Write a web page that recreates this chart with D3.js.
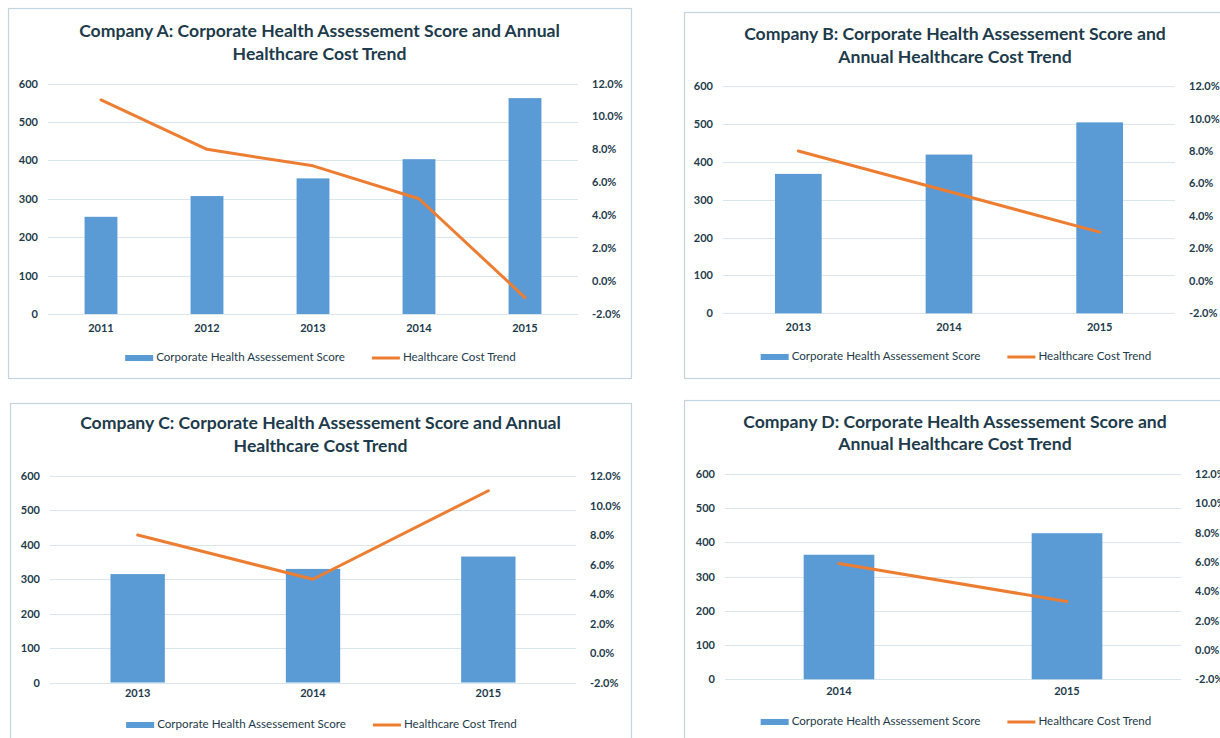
<!DOCTYPE html>
<html><head><meta charset="utf-8">
<script src="https://cdn.jsdelivr.net/npm/d3@7"></script>
<style>body{margin:0;background:#fff;} svg{display:block;font-family:Lato,"Open Sans",sans-serif;}</style>
</head><body><svg id="c" width="1220" height="738"></svg>
<script>
// ---- data ----
const yearsA = ["2011","2012","2013","2014","2015"];
const scoreA = [253, 307, 353, 403, 562];
const costA  = [11.0, 8.0, 7.0, 5.0, -1.0];
const yearsB = ["2013","2014","2015"];
const scoreB = [368, 419, 504];
const costB  = [8.0, 5.5, 3.0];
const yearsC = ["2013","2014","2015"];
const scoreC = [315, 330, 366];
const costC  = [8.0, 5.0, 11.0];
const yearsD = ["2014","2015"];
const scoreD = [364, 427];
const costD  = [5.9, 3.3];
const leftTicks = [0,100,200,300,400,500,600];
const rightTicks = [-2,0,2,4,6,8,10,12];
const titlesA = ["Company A: Corporate Health Assessement Score and Annual","Healthcare Cost Trend"];
const titlesB = ["Company B: Corporate Health Assessement Score and","Annual Healthcare Cost Trend"];
const titlesC = ["Company C: Corporate Health Assessement Score and Annual","Healthcare Cost Trend"];
const titlesD = ["Company D: Corporate Health Assessement Score and","Annual Healthcare Cost Trend"];
const legendLabels = ["Corporate Health Assessement Score","Healthcare Cost Trend"];

// ---- layout ----
const panels = [
  {years:yearsA, score:scoreA, cost:costA, titles:titlesA, box:[8,8,631,378], plot:[48,578,83.5,314], titleY:[32,55], xLabY:330, legY:358},
  {years:yearsB, score:scoreB, cost:costB, titles:titlesB, box:[684,12,1226,378], plot:[723,1175,86,313.3], titleY:[35,58], xLabY:329, legY:357},
  {years:yearsC, score:scoreC, cost:costC, titles:titlesC, box:[10,403,631,760], plot:[50,576,476,682.5], titleY:[424,447], xLabY:695, legY:725},
  {years:yearsD, score:scoreD, cost:costD, titles:titlesD, box:[684,400,1226,760], plot:[725,1181,474,679.3], titleY:[423,445], xLabY:693, legY:722}
];
const txt = "#1d3b4b", grid = "#d9e6ee", border = "#c3d4dc", barC = "#5b9bd5", lineC = "#ed7d31";
const svg = d3.select("#c");

panels.forEach(p => {
  const g = svg.append("g");
  const [bx0,by0,bx1,by1] = p.box;
  g.append("rect").attr("x",bx0+0.5).attr("y",by0+0.5).attr("width",bx1-bx0).attr("height",by1-by0)
    .attr("fill","#fff").attr("stroke",border).attr("stroke-width",1.2);
  const cx = (bx0+bx1)/2;
  p.titles.forEach((t,i)=>{
    g.append("text").attr("x",cx).attr("y",p.titleY[i]).attr("text-anchor","middle").attr("dominant-baseline","middle")
      .attr("font-size",17.6).attr("font-weight",700).attr("fill",txt).text(t);
  });
  const [x0,x1,yTop,yBot] = p.plot;
  const x = d3.scaleBand().domain(p.years).range([x0,x1]).paddingInner(0.69).paddingOuter(0.345);
  const y = d3.scaleLinear().domain([0,600]).range([yBot,yTop]);
  const y2 = d3.scaleLinear().domain([-2,12]).range([yBot,yTop]);

  // gridlines
  g.append("g").selectAll("line").data(leftTicks).join("line")
    .attr("x1",x0).attr("x2",x1).attr("y1",d=>Math.round(y(d))+0.5).attr("y2",d=>Math.round(y(d))+0.5)
    .attr("stroke",grid).attr("stroke-width",1);

  // left axis
  const la = g.append("g").attr("transform",`translate(${x0-10},0)`)
    .call(d3.axisLeft(y).tickValues(leftTicks).tickSize(0).tickPadding(0));
  la.select(".domain").remove();
  la.selectAll("text").attr("font-size",11).attr("font-family","Lato").attr("font-weight",700).attr("fill",txt);

  // right axis
  const ra = g.append("g").attr("transform",`translate(${x1+14},0)`)
    .call(d3.axisRight(y2).tickValues(rightTicks).tickSize(0).tickPadding(0).tickFormat(d=>d.toFixed(1)+"%"));
  ra.select(".domain").remove();
  ra.selectAll("text").attr("font-size",11).attr("font-family","Lato").attr("font-weight",700).attr("fill",txt);

  // x axis labels
  const xa = g.append("g").attr("transform",`translate(0,${p.xLabY-6})`)
    .call(d3.axisBottom(x).tickSize(0).tickPadding(0));
  xa.select(".domain").remove();
  xa.selectAll("text").attr("font-size",11).attr("font-family","Lato").attr("font-weight",700).attr("fill",txt);

  // bars
  g.append("g").selectAll("rect").data(p.years).join("rect")
    .attr("x",d=>x(d)).attr("width",x.bandwidth())
    .attr("y",(d,i)=>y(p.score[i])).attr("height",(d,i)=>y(0)-y(p.score[i]))
    .attr("fill",barC);

  // line
  const line = d3.line().x((d,i)=>x(p.years[i])+x.bandwidth()/2).y(d=>y2(d));
  g.append("path").datum(p.cost).attr("d",line).attr("fill","none").attr("stroke",lineC)
    .attr("stroke-width",3).attr("stroke-linejoin","round").attr("stroke-linecap","round");

  // legend
  const lg = g.append("g");
  const t1 = lg.append("text").attr("font-size",11.6).attr("fill",txt).attr("dominant-baseline","middle").text(legendLabels[0]);
  const t2 = lg.append("text").attr("font-size",11.6).attr("fill",txt).attr("dominant-baseline","middle").text(legendLabels[1]);
  const w1 = t1.node().getComputedTextLength(), w2 = t2.node().getComputedTextLength();
  const sw = 28, gap = 3, between = 27;
  const total = sw+gap+w1+between+sw+gap+w2;
  let lx = cx - total/2 + 1;
  lg.append("rect").attr("x",lx).attr("y",p.legY-3).attr("width",sw).attr("height",6).attr("fill",barC);
  t1.attr("x",lx+sw+gap).attr("y",p.legY);
  lx += sw+gap+w1+between;
  lg.append("line").attr("x1",lx).attr("x2",lx+sw).attr("y1",p.legY).attr("y2",p.legY).attr("stroke",lineC).attr("stroke-width",3);
  t2.attr("x",lx+sw+gap).attr("y",p.legY);
});
</script></body></html>
